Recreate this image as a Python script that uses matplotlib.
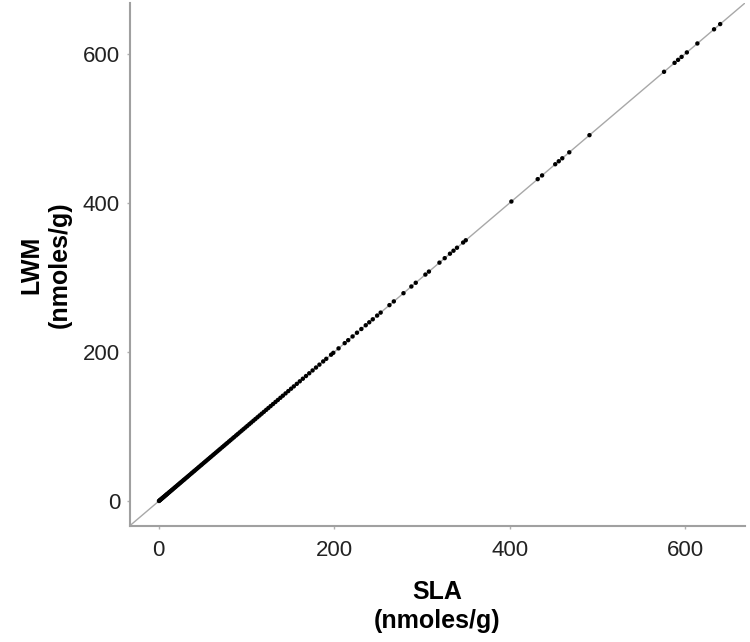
import numpy as np
import matplotlib
matplotlib.use("Agg")
import matplotlib.pyplot as plt

plt.rcParams['font.family'] = ['Liberation Sans', 'DejaVu Sans']

# SLA vs LWM (nmoles/g)
sla = [0.3, 0.8, 1.5, 2.1, 2.9, 3.6, 4.4, 5.2, 6.0, 6.9, 7.7, 8.6, 9.4, 10.3, 11.5,
       12.4, 13.6, 14.8, 15.9, 17.2, 18.5, 19.6, 21.0, 22.3, 23.7, 25.0, 26.4, 27.9,
       29.1, 30.6, 32.2, 33.5, 35.1, 36.8, 38.2, 39.9, 41.3, 43.0, 44.6, 46.1, 47.9,
       49.4, 51.2, 52.8, 54.5, 56.3, 58.0, 59.6, 61.5, 63.2, 65.0, 66.9, 68.7, 70.4,
       72.5, 74.3, 76.2, 78.0, 80.1, 82.0, 84.1, 86.0, 88.2, 90.1, 92.3, 94.5, 96.6,
       98.8, 101.0, 103.3, 105.5, 107.9, 110.2, 112.6, 115.0, 117.4, 119.9, 122.5,
       125.0, 127.6, 130.3, 133.1, 135.8, 138.7, 141.5, 144.6, 147.7, 150.9, 154.0,
       157.4, 160.8, 164.3, 167.9, 171.6, 175.4, 179.3, 183.2, 187.5, 191.0, 196.5,
       199.0, 205, 212, 216, 221, 226, 231, 236, 240, 244, 249, 253, 263, 268, 279,
       288, 293, 304, 308, 320, 326, 332, 336, 340, 347, 350, 402, 432, 437, 452,
       456, 460, 468, 491, 576, 588, 592, 596, 602, 614, 633, 640]
lwm = [0.3, 0.8, 1.5, 2.1, 2.9, 3.6, 4.4, 5.2, 6.0, 6.9, 7.7, 8.6, 9.4, 10.3, 11.5,
       12.4, 13.6, 14.8, 15.9, 17.2, 18.5, 19.6, 21.0, 22.3, 23.7, 25.0, 26.4, 27.9,
       29.1, 30.6, 32.2, 33.5, 35.1, 36.8, 38.2, 39.9, 41.3, 43.0, 44.6, 46.1, 47.9,
       49.4, 51.2, 52.8, 54.5, 56.3, 58.0, 59.6, 61.5, 63.2, 65.0, 66.9, 68.7, 70.4,
       72.5, 74.3, 76.2, 78.0, 80.1, 82.0, 84.1, 86.0, 88.2, 90.1, 92.3, 94.5, 96.6,
       98.8, 101.0, 103.3, 105.5, 107.9, 110.2, 112.6, 115.0, 117.4, 119.9, 122.5,
       125.0, 127.6, 130.3, 133.1, 135.8, 138.7, 141.5, 144.6, 147.7, 150.9, 154.0,
       157.4, 160.8, 164.3, 167.9, 171.6, 175.4, 179.3, 183.2, 187.5, 191.0, 196.5,
       199.0, 205, 212, 216, 221, 226, 231, 236, 240, 244, 249, 253, 263, 268, 279,
       288, 293, 304, 308, 320, 326, 332, 336, 340, 347, 350, 402, 432, 437, 452,
       456, 460, 468, 491, 576, 588, 592, 596, 602, 614, 633, 640]
ticks = [0, 200, 400, 600]
lims = [-33, 668]

fig = plt.figure(figsize=(7.5, 6.42), dpi=100)
ax = fig.add_axes([0.173, 0.181, 0.82, 0.814])

ax.plot(lims, lims, color='#a8a8a8', lw=1.0, zorder=1)
ax.scatter(sla, lwm, s=10, color='black', edgecolors='none', zorder=2)

ax.set_xlim(lims)
ax.set_ylim(lims)
ax.set_xticks(ticks)
ax.set_yticks(ticks)

for side in ['top', 'right']:
    ax.spines[side].set_visible(False)
for side in ['left', 'bottom']:
    ax.spines[side].set_color('#a0a0a0')
    ax.spines[side].set_linewidth(1.5)

ax.tick_params(length=2, width=1, color='#b0b0b0', labelsize=16,
               labelcolor='#222222')
ax.tick_params(axis='x', pad=8)
ax.tick_params(axis='y', pad=5)

ax.set_xlabel('SLA\n(nmoles/g)', fontsize=18, fontweight='bold', labelpad=14,
              linespacing=1.25)
ax.set_ylabel('LWM\n(nmoles/g)', fontsize=18, fontweight='bold', labelpad=8,
              linespacing=1.25)

fig.savefig('out.png', dpi=100)
